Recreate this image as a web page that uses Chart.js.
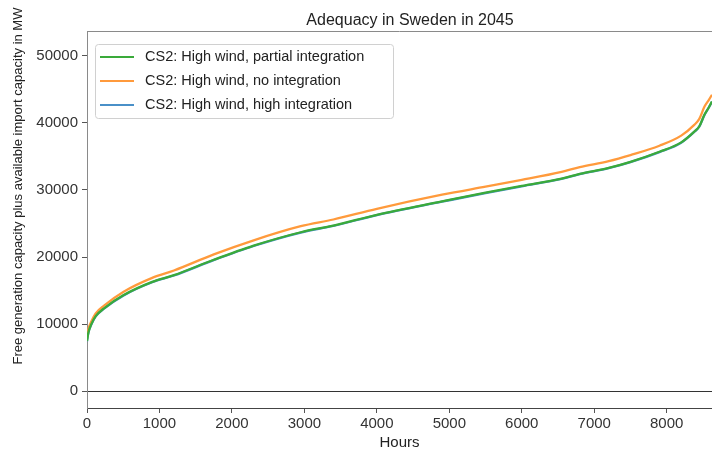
<!DOCTYPE html>
<html>
<head>
<meta charset="utf-8">
<script src="https://cdn.jsdelivr.net/npm/chart.js"></script>
<style>
  html, body { margin: 0; padding: 0; background: #fff; }
  #wrap { width: 712px; height: 453px; position: relative; }
</style>
</head>
<body>
<div id="wrap"><canvas id="chart" width="712" height="453"></canvas></div>
<script>
// Hours of the year (sorted duration curve)
const hours = [0, 20, 60, 120, 240, 500, 900, 1200, 1750, 2300, 2950, 3400, 4000, 4900,
  5500, 6000, 6550, 6800, 7200, 7500, 7900, 8200, 8380, 8450, 8520, 8580, 8625];

const partialIntegration = [7500, 8800, 10000, 11200, 12400, 14300, 16300, 17300, 19600, 21700,
  23700, 24700, 26300, 28300, 29600, 30600, 31700, 32400, 33300, 34200, 35700, 37100, 38700,
  39500, 41200, 42300, 43200];

const noIntegration = [8000, 9300, 10400, 11600, 12800, 14800, 16900, 18000, 20400, 22500,
  24600, 25600, 27200, 29300, 30500, 31500, 32700, 33400, 34300, 35200, 36600, 38100, 39700,
  40600, 42400, 43400, 44200];

const highIntegration = [7450, 8750, 9950, 11150, 12350, 14250, 16250, 17250, 19550, 21650,
  23650, 24650, 26250, 28250, 29550, 30550, 31650, 32350, 33250, 34150, 35650, 37050, 38650,
  39450, 41150, 42250, 43150];

const xTicks = [0, 1000, 2000, 3000, 4000, 5000, 6000, 7000, 8000];
const yTicks = [0, 10000, 20000, 30000, 40000, 50000];

const seriesLabels = [
  'CS2: High wind, partial integration',
  'CS2: High wind, no integration',
  'CS2: High wind, high integration'
];
const seriesColors = ['#3aaa3a', '#ff9a3c', '#4a90c8'];

const chartTitle = 'Adequacy in Sweden in 2045';
const yTitle = 'Free generation capacity plus available import capacity in MW';
const xTitle = 'Hours';

const FONT = '"Liberation Sans", Arial, Helvetica, sans-serif';

function toPoints(values) {
  return hours.map((h, i) => ({ x: h, y: values[i] }));
}

// Title, inside legend, y title and top spine
const decorations = {
  id: 'decorations',
  afterDraw(chart) {
    const ctx = chart.ctx;
    const area = chart.chartArea;
    ctx.save();

    // top spine
    ctx.strokeStyle = '#8a8a8a';
    ctx.lineWidth = 1;
    ctx.beginPath();
    ctx.moveTo(area.left, area.top + 0.5);
    ctx.lineTo(area.right, area.top + 0.5);
    ctx.stroke();

    // title
    ctx.fillStyle = '#222';
    ctx.font = '16px ' + FONT;
    ctx.textAlign = 'center';
    ctx.textBaseline = 'middle';
    ctx.fillText(chartTitle, 410, 21);

    // y title
    ctx.save();
    ctx.translate(18, 186);
    ctx.rotate(-Math.PI / 2);
    ctx.font = '13px ' + FONT;
    ctx.fillStyle = '#222';
    ctx.fillText(yTitle, 0, 0);
    ctx.restore();

    // legend box
    const bx = 95, by = 44, bw = 298, bh = 74;
    ctx.fillStyle = 'rgba(255,255,255,0.85)';
    ctx.strokeStyle = '#d0d0d0';
    ctx.beginPath();
    ctx.roundRect(bx + 0.5, by + 0.5, bw, bh, 3);
    ctx.fill();
    ctx.stroke();

    ctx.font = '14.5px ' + FONT;
    ctx.textAlign = 'left';
    seriesLabels.forEach((label, i) => {
      const y = 57 + i * 24;
      ctx.strokeStyle = seriesColors[i];
      ctx.lineWidth = 2;
      ctx.beginPath();
      ctx.moveTo(100, y);
      ctx.lineTo(134, y);
      ctx.stroke();
      ctx.fillStyle = '#222';
      ctx.fillText(label, 145, y);
    });

    ctx.restore();
  }
};

new Chart(document.getElementById('chart'), {
  type: 'line',
  data: {
    datasets: [
      { label: seriesLabels[0], data: toPoints(partialIntegration), borderColor: seriesColors[0] },
      { label: seriesLabels[1], data: toPoints(noIntegration), borderColor: seriesColors[1] },
      { label: seriesLabels[2], data: toPoints(highIntegration), borderColor: seriesColors[2] }
    ]
  },
  options: {
    responsive: false,
    animation: false,
    layout: { padding: { top: 31, right: 0, bottom: 0, left: 0 } },
    elements: {
      point: { radius: 0 },
      line: { borderWidth: 2.3, cubicInterpolationMode: 'monotone', fill: false }
    },
    plugins: {
      legend: { display: false },
      title: { display: false },
      tooltip: { enabled: false }
    },
    scales: {
      x: {
        type: 'linear',
        min: 0,
        max: 8625,
        afterFit(scale) { scale.height = 45; },
        afterBuildTicks(scale) { scale.ticks = xTicks.map(v => ({ value: v })); },
        ticks: {
          color: '#333',
          padding: 2,
          maxRotation: 0,
          autoSkip: false,
          font: { family: FONT, size: 15 },
          callback: v => String(v)
        },
        grid: { drawOnChartArea: false, tickLength: 5, tickColor: '#555' },
        border: { color: '#444', width: 1 },
        title: {
          display: true,
          text: xTitle,
          color: '#222',
          font: { family: FONT, size: 15 },
          padding: { top: 0, bottom: 1 }
        }
      },
      y: {
        type: 'linear',
        min: -2500,
        max: 53700,
        afterFit(scale) { scale.width = 87; },
        afterBuildTicks(scale) { scale.ticks = yTicks.map(v => ({ value: v })); },
        ticks: {
          color: '#333',
          padding: 4,
          autoSkip: false,
          font: { family: FONT, size: 15 },
          callback: v => String(v)
        },
        grid: {
          color: c => (c.tick && c.tick.value === 0 ? '#333' : 'rgba(0,0,0,0)'),
          tickLength: 5,
          tickColor: '#555'
        },
        border: { color: '#8a8a8a', width: 1 }
      }
    }
  },
  plugins: [decorations]
});
</script>
</body>
</html>
